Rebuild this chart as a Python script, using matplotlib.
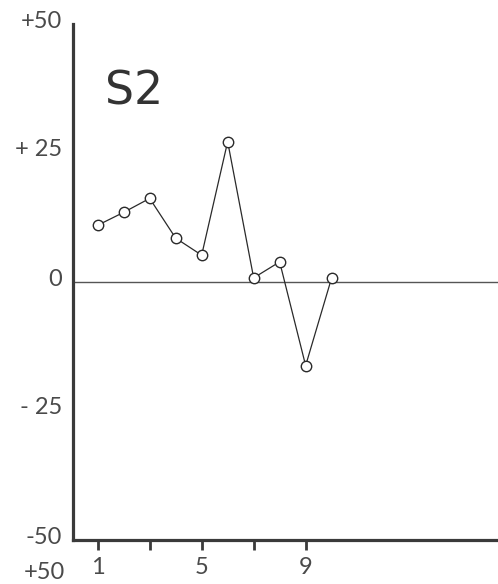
import matplotlib
matplotlib.use("Agg")
import matplotlib.pyplot as plt
from matplotlib.transforms import ScaledTranslation

x_vals = [1, 2, 3, 4, 5, 6, 7, 8, 9, 10]
y_vals = [11.0, 13.5, 16.2, 8.5, 5.2, 27.2, 0.8, 3.9, -16.2, 0.8]
y_ticks = [50, 25, 0, -25, -50]
y_labels = ["+50", "+ 25", "0", "- 25", "-50"]
x_ticks = [1, 3, 5, 7, 9]
x_labels = ["1", "", "5", "", "9"]
title = "S2"

ink = "#3a3a3a"
lab_col = "#4a4a4a"
plt.rcParams['font.family'] = ['Lato', 'DejaVu Sans']

fig = plt.figure(figsize=(4.98, 5.84), dpi=100)
ax = fig.add_axes([73/498, 1-540/584, 1-73/498, (540-24)/584])
ax.set_xlim(0.05, 16.4)
ax.set_ylim(-50, 50)

ax.axhline(0, color="#555555", lw=1.0, zorder=1)
ax.plot(x_vals, y_vals, color="#2a2a2a", lw=0.9, marker="o", ms=7.5,
        mfc="white", mec="#2a2a2a", mew=1.0, zorder=3)

for s in ["top", "right"]:
    ax.spines[s].set_visible(False)
for s in ["left", "bottom"]:
    ax.spines[s].set_color(ink)
    ax.spines[s].set_linewidth(2.3)

ax.set_xticks(x_ticks)
ax.set_xticklabels(x_labels)
ax.tick_params(axis="x", direction="out", length=7, width=2, color=ink,
               pad=5, labelsize=17, labelcolor=lab_col)
ax.set_yticks(y_ticks)
ax.set_yticklabels(y_labels)
ax.tick_params(axis="y", length=0, pad=8, labelsize=17, labelcolor=lab_col)
off = ScaledTranslation(0, 5/100, fig.dpi_scale_trans)
for lab in ax.get_yticklabels():
    lab.set_transform(lab.get_transform() + off)

fig.text(105/498, 1-92/584, title, fontsize=33, family="DejaVu Sans",
         color="#333333", ha="left", va="center")
fig.text(65/498, 1/584, "+50", fontsize=17, color=lab_col,
         ha="right", va="bottom")

fig.savefig("out.png", dpi=100)
